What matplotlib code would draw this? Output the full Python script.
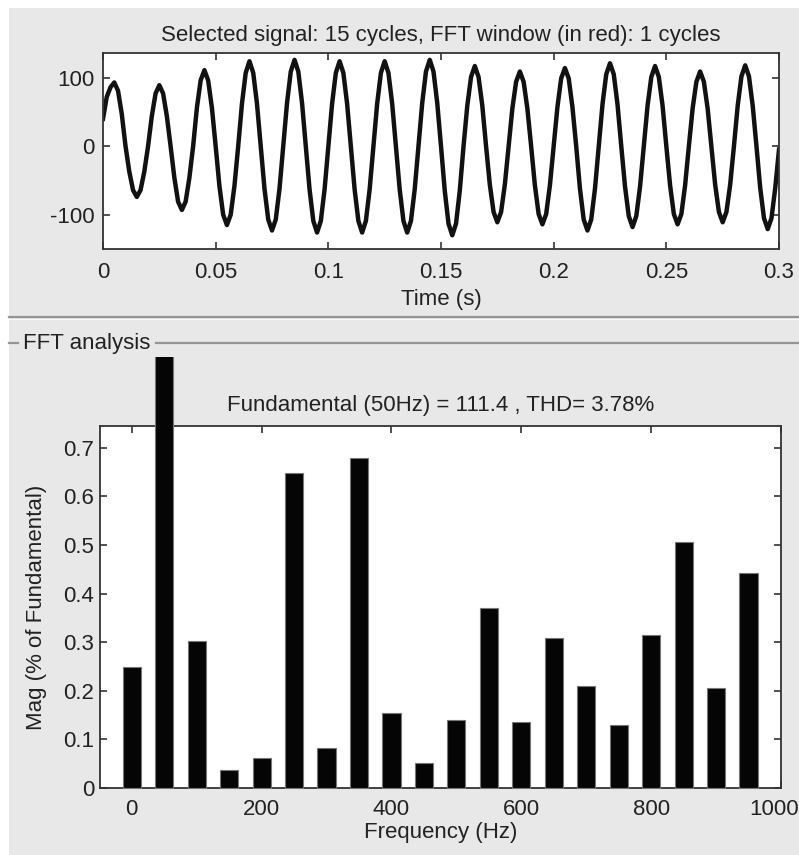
import numpy as np
import matplotlib
matplotlib.use("Agg")
import matplotlib.pyplot as plt
from matplotlib.lines import Line2D
from matplotlib.patches import Rectangle
from matplotlib.transforms import Bbox, TransformedBbox, ScaledTranslation

plt.rcParams['font.family'] = ['Liberation Sans', 'DejaVu Sans']
plt.rcParams['axes.unicode_minus'] = False

# ---------------- data ----------------
# time signal, 12 samples per 50 Hz cycle (0.02 s), 15 cycles
t_step = 0.02 / 12
signal = [
    40, 72, 86, 93, 81, 47, 0, -37, -64, -74, -64, -37,
    0, 44, 77, 89, 77, 44, 0, -46, -81, -93, -81, -46,
    0, 56, 96, 111, 96, 56, 0, -58, -100, -115, -100, -58,
    0, 62, 107, 124, 107, 62, 0, -62, -107, -123, -107, -62,
    0, 63, 109, 126, 109, 63, 0, -63, -109, -126, -109, -63,
    0, 62, 107, 124, 107, 62, 0, -63, -109, -126, -109, -63,
    0, 62, 107, 124, 107, 62, 0, -63, -109, -126, -109, -63,
    0, 63, 109, 126, 109, 63, 0, -65, -113, -130, -113, -65,
    0, 59, 101, 117, 101, 59, 0, -56, -96, -111, -96, -56,
    0, 55, 94, 109, 94, 55, 0, -57, -99, -114, -99, -57,
    0, 57, 99, 114, 99, 57, 0, -62, -107, -123, -107, -62,
    0, 61, 105, 121, 105, 61, 0, -59, -102, -118, -102, -59,
    0, 59, 101, 117, 101, 59, 0, -57, -99, -114, -99, -57,
    0, 55, 94, 109, 94, 55, 0, -56, -96, -111, -96, -56,
    0, 59, 102, 118, 102, 59, 0, -61, -105, -121, -105, -61,
    -5,
]
time = np.arange(len(signal)) * t_step

freqs = [0, 50, 100, 150, 200, 250, 300, 350, 400, 450,
         500, 550, 600, 650, 700, 750, 800, 850, 900, 950]
mags = [0.248, 100.0, 0.302, 0.037, 0.061, 0.648, 0.083, 0.679, 0.155, 0.051,
        0.140, 0.370, 0.136, 0.309, 0.209, 0.129, 0.314, 0.507, 0.206, 0.442]

top_title = "Selected signal: 15 cycles, FFT window (in red): 1 cycles"
bottom_title = "Fundamental (50Hz) = 111.4 , THD= 3.78%"

# ---------------- figure ----------------
W, H = 799, 855
fig = plt.figure(figsize=(W / 100, H / 100), dpi=100, facecolor='white')

def fx(px):
    return px / W

def fy(py):
    return 1 - py / H

FS = 16
txt_c = '#222222'
bg = '#e8e8e8'
fig.add_artist(Rectangle((fx(9), 0), 1 - fx(9), fy(8), transform=fig.transFigure,
                         facecolor=bg, edgecolor='none', zorder=-10))
# panel separator
fig.add_artist(Line2D([fx(9), 1], [fy(317), fy(317)], transform=fig.transFigure,
                      color='#959595', lw=1.6))
fig.add_artist(Line2D([fx(9), 1], [fy(319), fy(319)], transform=fig.transFigure,
                      color='#fafafa', lw=0.8))
# FFT analysis group border
fig.add_artist(Line2D([fx(9), fx(18)], [fy(343), fy(343)], transform=fig.transFigure,
                      color='#959595', lw=1.6))
fig.add_artist(Line2D([fx(156), 1], [fy(343), fy(343)], transform=fig.transFigure,
                      color='#959595', lw=1.6))
fig.text(fx(23), fy(343), "FFT analysis", fontsize=FS, ha='left', va='center',
         color=txt_c)

spine_c = '#333333'

def style(ax):
    ax.set_facecolor('white')
    for s in ax.spines.values():
        s.set_color(spine_c)
        s.set_linewidth(1.3)
    ax.tick_params(direction='in', top=True, right=True, length=5, width=1.2,
                   color=spine_c, labelsize=FS, labelcolor=txt_c)

# top axes
ax1 = fig.add_axes([fx(103), fy(249), fx(779) - fx(103), fy(53) - fy(249)])
style(ax1)
ax1.plot(time, signal, color='#111111', lw=3.2, solid_joinstyle='round')
ax1.set_xlim(0, 0.3)
ax1.set_ylim(-150, 136)
ax1.set_xticks([0, 0.05, 0.1, 0.15, 0.2, 0.25, 0.3])
ax1.set_xticklabels(['0', '0.05', '0.1', '0.15', '0.2', '0.25', '0.3'])
ax1.set_yticks([-100, 0, 100])
ax1.tick_params(axis='x', pad=9)
ax1.tick_params(axis='y', pad=6)
ax1.set_title(top_title, fontsize=FS, pad=9, color=txt_c)
ax1.set_xlabel("Time (s)", fontsize=FS, labelpad=5, color=txt_c)

# bottom axes
ax2 = fig.add_axes([fx(100), fy(788), fx(781) - fx(100), fy(426) - fy(788)])
style(ax2)
bars = ax2.bar(freqs, mags, width=28, color='#050505', edgecolor='#777777',
               linewidth=0.8, zorder=3)
clipbox = TransformedBbox(Bbox([[0, 0], [1, fy(357)]]), fig.transFigure)
for b in bars:
    b.set_clip_on(False)
# fundamental bar extends beyond the axes up to the panel border
fund = bars[1]
fund.set_clip_on(True)
fund.set_clip_box(clipbox)
fund.set_clip_path(None)
ax2.set_xlim(-49, 1000)
ax2.set_ylim(0, 0.745)
ax2.set_xticks([0, 200, 400, 600, 800, 1000])
ax2.set_yticks([0, 0.1, 0.2, 0.3, 0.4, 0.5, 0.6, 0.7])
ax2.set_yticklabels(['0', '0.1', '0.2', '0.3', '0.4', '0.5', '0.6', '0.7'])
ax2.tick_params(axis='x', pad=8)
ax2.tick_params(axis='y', pad=4)
ax2.set_title(bottom_title, fontsize=FS, pad=11, color=txt_c)
ax2.set_xlabel("Frequency (Hz)", fontsize=FS, labelpad=1, color=txt_c)
ax2.set_ylabel("Mag (% of Fundamental)", fontsize=FS, labelpad=12, color=txt_c)

# keep the "1000" label inside the image
last = ax2.get_xticklabels()[-1]
last.set_transform(last.get_transform() + ScaledTranslation(-0.07, 0, fig.dpi_scale_trans))

fig.savefig("out.png", dpi=100, facecolor=fig.get_facecolor())
